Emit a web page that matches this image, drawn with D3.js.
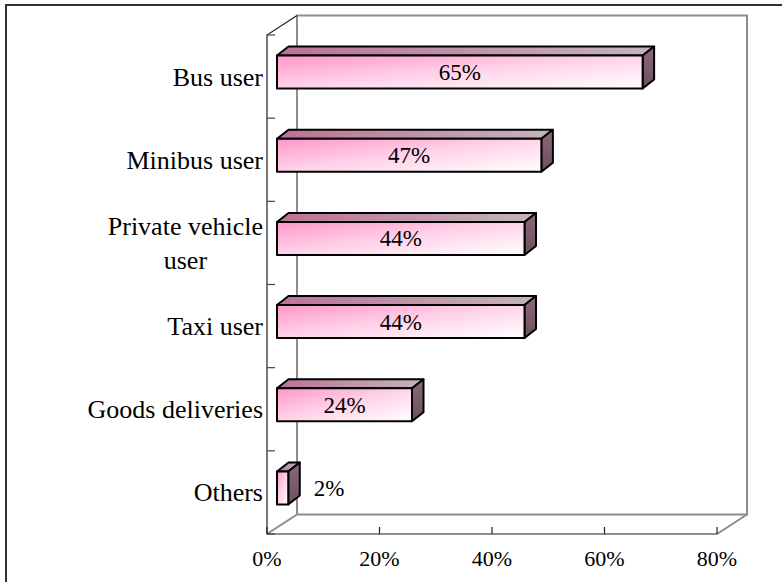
<!DOCTYPE html>
<html>
<head>
<meta charset="utf-8">
<script src="https://cdn.jsdelivr.net/npm/d3@7"></script>
<style>
  html, body { margin: 0; padding: 0; background: #fff; }
  svg { display: block; }
  text { font-family: "Liberation Serif", "Times New Roman", serif; fill: #000; }
</style>
</head>
<body>
<svg id="chart" width="782" height="582"></svg>
<script>
// ---- data ----
const categories = ["Bus user", "Minibus user", "Private vehicle user", "Taxi user", "Goods deliveries", "Others"];
const values = [65, 47, 44, 44, 24, 2];
const valueLabels = ["65%", "47%", "44%", "44%", "24%", "2%"];
const tickValues = [0, 20, 40, 60, 80];
const tickLabels = ["0%", "20%", "40%", "60%", "80%"];

const svg = d3.select("#chart");

// outer border
svg.append("rect").attr("x", 6).attr("y", 5).attr("width", 820).attr("height", 620)
  .attr("fill", "none").attr("stroke", "#333").attr("stroke-width", 2);

// front plane of the 3-D box
const pLeft = 267, pRight = 717, pTop = 35, pBottom = 534;
const depthX = 30, depthY = -19.5;          // wall depth
const barOffX = 10, barOffY = -4.5;          // bar front plane offset
const barDX = 11.5, barDY = -9;              // bar depth
const barH = 33;

const x = d3.scaleLinear().domain([0, 80]).range([pLeft, pRight]);
const y = d3.scaleBand().domain(categories).range([pTop, pBottom]);

// gradients
const defs = svg.append("defs");
const gFront = defs.append("linearGradient").attr("id", "gFront")
  .attr("x1", 0).attr("y1", 0).attr("x2", 1).attr("y2", 1);
gFront.append("stop").attr("offset", 0).attr("stop-color", "#ff96c9");
gFront.append("stop").attr("offset", 0.5).attr("stop-color", "#ffd3e9");
gFront.append("stop").attr("offset", 1).attr("stop-color", "#ffffff");
const gTop = defs.append("linearGradient").attr("id", "gTop")
  .attr("x1", 0).attr("y1", 0).attr("x2", 1).attr("y2", 0);
gTop.append("stop").attr("offset", 0).attr("stop-color", "#bd7196");
gTop.append("stop").attr("offset", 1).attr("stop-color", "#c3b5bb");
const gSide = defs.append("linearGradient").attr("id", "gSide")
  .attr("x1", 0).attr("y1", 0).attr("x2", 0).attr("y2", 1);
gSide.append("stop").attr("offset", 0).attr("stop-color", "#8a6878");
gSide.append("stop").attr("offset", 1).attr("stop-color", "#6e5060");

// walls (gray)
const wall = svg.append("g").attr("fill", "none").attr("stroke", "#8c8c8c").attr("stroke-width", 2);
wall.append("path").attr("d", d3.line()([
  [pLeft + depthX, pBottom + depthY], [pLeft + depthX, pTop + depthY],
  [pRight + depthX, pTop + depthY], [pRight + depthX, pBottom + depthY],
  [pLeft + depthX, pBottom + depthY]
]));
wall.append("path").attr("d", d3.line()([[pRight, pBottom], [pRight + depthX, pBottom + depthY]]));
wall.append("path").attr("d", d3.line()([[pLeft, pBottom], [pLeft + depthX, pBottom + depthY]]));

// front axes (dark)
const ax = svg.append("g").attr("fill", "none").attr("stroke", "#222").attr("stroke-width", 1.2);
ax.append("path").attr("d", d3.line()([[pLeft + depthX, pTop + depthY], [pLeft, pTop], [pLeft, pBottom], [pRight, pBottom]]));

// y ticks (band boundaries), pointing inward
const yBounds = categories.map(c => y(c)).concat([pBottom]);
svg.append("g").selectAll("line").data(yBounds).join("line")
  .attr("x1", pLeft).attr("x2", pLeft + 8)
  .attr("y1", d => d).attr("y2", d => d)
  .attr("stroke", "#444").attr("stroke-width", 1.2);

// x ticks
svg.append("g").selectAll("line").data(tickValues).join("line")
  .attr("x1", d => x(d)).attr("x2", d => x(d))
  .attr("y1", pBottom).attr("y2", pBottom - 7)
  .attr("stroke", "#222").attr("stroke-width", 1.2);

svg.append("g").selectAll("text").data(tickValues).join("text")
  .attr("x", d => x(d)).attr("y", 566)
  .attr("text-anchor", "middle").attr("font-size", 22)
  .text((d, i) => tickLabels[i]);

// bars
const bars = svg.append("g").attr("stroke", "#000").attr("stroke-width", 2).attr("stroke-linejoin", "round");
categories.forEach((c, i) => {
  const x0 = x(0) + barOffX;
  const x1 = x(values[i]) + barOffX;
  const yc = y(c) + y.bandwidth() / 2 + barOffY;
  const y0 = yc - barH / 2, y1 = yc + barH / 2;
  const g = bars.append("g");
  g.append("path").attr("fill", "url(#gTop)").attr("d", d3.line()([
    [x0, y0], [x0 + barDX, y0 + barDY], [x1 + barDX, y0 + barDY], [x1, y0]
  ]) + "Z");
  g.append("path").attr("fill", "url(#gSide)").attr("d", d3.line()([
    [x1, y0], [x1 + barDX, y0 + barDY], [x1 + barDX, y1 + barDY], [x1, y1]
  ]) + "Z");
  g.append("rect").attr("fill", "url(#gFront)")
    .attr("x", x0).attr("y", y0).attr("width", x1 - x0).attr("height", barH);

  const inside = (x1 - x0) > 60;
  svg.append("text")
    .attr("x", inside ? (x0 + x1) / 2 : x1 + barDX + 14)
    .attr("y", yc + 8)
    .attr("text-anchor", inside ? "middle" : "start")
    .attr("font-size", 23)
    .text(valueLabels[i]);
});

// category labels with wrapping
const maxW = 200, lineH = 33.3, fs = 26;
const labG = svg.append("g");
categories.forEach(c => {
  const words = c.split(" ");
  const probe = labG.append("text").attr("font-size", fs);
  const lines = [];
  let cur = "";
  words.forEach(w => {
    const t = cur ? cur + " " + w : w;
    probe.text(t);
    if (probe.node().getComputedTextLength() > maxW && cur) { lines.push(cur); cur = w; }
    else cur = t;
  });
  lines.push(cur);
  let blockW = 0;
  lines.forEach(l => { probe.text(l); blockW = Math.max(blockW, probe.node().getComputedTextLength()); });
  probe.remove();
  const cx = 263 - blockW / 2;
  const cy = y(c) + y.bandwidth() / 2;
  const firstBase = cy + 9 - (lines.length - 1) * lineH / 2;
  lines.forEach((l, k) => {
    labG.append("text").attr("font-size", fs).attr("text-anchor", "middle")
      .attr("x", cx).attr("y", firstBase + k * lineH).text(l);
  });
});
</script>
</body>
</html>
